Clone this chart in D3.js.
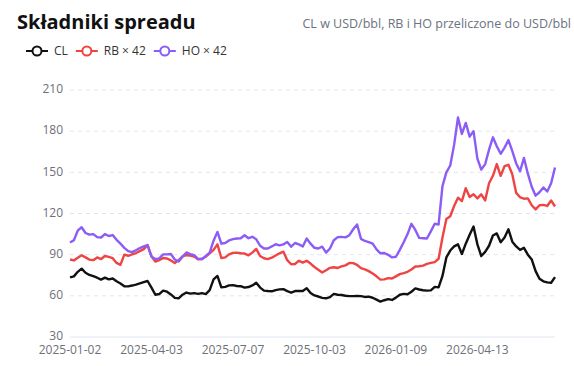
<!DOCTYPE html>
<html>
<head>
<meta charset="utf-8">
<script src="https://cdn.jsdelivr.net/npm/d3@7"></script>
<style>
  body { margin: 0; background: #fff; }
  svg { display: block; font-family: "Open Sans", "Noto Sans", sans-serif; }
</style>
</head>
<body>
<div id="chart"></div>
<script>
// x axis: trading-day categories, a label every 63 days
const tickLabels = ["2025-01-02", "2025-04-03", "2025-07-07", "2025-10-03", "2026-01-09", "2026-04-13"];
const labelEvery = 63;
// values every 3rd trading day
const sampleStep = 3;
const yTicks = [30, 60, 90, 120, 150, 180, 210];

const clValues = [
  73.5, 74.2, 77.5, 79.8, 76.8, 75.2, 74.3, 73.2, 71.8, 73.3,
  72.0, 72.6, 70.6, 69.0, 67.0, 66.9, 67.5, 68.2, 69.1, 70.0,
  70.8, 66.0, 60.8, 61.3, 63.8, 63.0, 61.0, 58.5, 58.2, 60.8,
  62.4, 61.6, 62.0, 61.4, 62.0, 61.3, 64.2, 72.0, 74.5, 66.2,
  66.5, 67.6, 67.8, 67.2, 67.0, 66.0, 66.4, 67.6, 69.5, 66.0,
  63.8, 63.5, 63.3, 64.2, 64.7, 64.9, 63.4, 62.4, 63.5, 63.6,
  63.5, 65.6, 62.0, 60.3, 59.5, 58.5, 58.2, 59.0, 61.4, 60.8,
  60.6, 60.1, 59.8, 59.8, 60.0, 59.8, 59.2, 59.4, 58.6, 57.2,
  55.8, 56.8, 57.6, 57.0, 58.7, 60.8, 61.4, 61.2, 63.0, 65.4,
  64.6, 64.1, 63.8, 64.0, 66.5, 66.2, 74.5, 88.0, 93.0, 96.0,
  97.5, 90.5, 98.0, 104.5, 110.5, 97.5, 89.0, 92.0, 96.5, 104.0,
  105.5, 99.0, 102.5, 108.5, 99.5, 96.0, 93.5, 95.0, 90.0, 86.5,
  78.0, 72.5, 70.6, 69.8, 69.5, 73.6
];

const rbValues = [
  86.5, 85.8, 87.8, 89.6, 88.0, 86.4, 86.0, 88.0, 86.8, 89.0,
  88.4, 87.4, 84.0, 82.6, 90.0, 89.2, 90.2, 91.2, 92.6, 94.0,
  97.0, 88.8, 85.0, 86.0, 87.6, 87.2, 85.8, 83.9, 86.0, 88.8,
  89.6, 89.4, 88.6, 86.6, 87.0, 88.5, 91.0, 93.5, 97.5, 87.6,
  88.0, 90.2, 91.3, 91.5, 91.0, 90.8, 89.5, 91.5, 94.2, 89.0,
  87.4, 86.8, 87.8, 89.4, 91.0, 92.2, 86.0, 83.0, 83.2, 85.6,
  84.2, 85.6, 83.5, 81.0, 79.0, 77.0, 78.6, 80.4, 80.8, 80.3,
  81.4, 82.2, 84.0, 83.8, 82.5, 80.2, 79.3, 78.0, 76.2, 74.2,
  71.8, 72.0, 72.9, 72.6, 74.2, 75.8, 76.6, 77.5, 79.2, 81.4,
  81.6, 82.0, 83.3, 84.0, 84.6, 87.0, 102.5, 116.0, 118.0, 125.5,
  131.5, 129.0, 138.5, 132.0, 134.0, 131.0, 134.0, 129.5, 142.0, 147.5,
  156.0, 147.5, 154.5, 155.5, 148.5, 135.0, 131.8, 130.8, 131.0, 126.0,
  123.0, 126.0, 126.3, 125.5, 129.5, 125.1
];

const hoValues = [
  98.8, 100.5, 107.5, 110.0, 105.8, 104.6, 105.0, 102.8, 102.5, 105.0,
  103.6, 104.3, 100.8, 98.0, 95.0, 92.6, 91.8, 93.2, 94.8, 96.0,
  97.0, 88.5, 86.8, 87.3, 90.2, 90.2, 90.5, 86.5, 85.0, 88.5,
  91.6, 90.4, 89.6, 87.0, 86.6, 89.0, 91.5, 100.2, 106.6, 98.0,
  98.5, 100.4, 101.3, 101.8, 102.0, 104.2, 102.0, 103.0, 101.2, 96.5,
  94.5, 94.5, 96.0, 97.6, 96.8, 97.5, 99.2, 95.8, 98.5, 97.5,
  96.0, 101.8, 98.0, 95.0, 94.5, 95.8, 91.5, 94.5, 100.5, 102.8,
  103.0, 102.6, 104.2, 108.5, 112.0, 101.5, 100.0, 99.2, 98.0, 93.8,
  91.0, 91.2, 89.9, 88.0, 88.5, 93.5, 99.0, 105.0, 112.5, 108.0,
  102.2, 102.0, 101.8, 107.0, 112.5, 112.0, 140.0, 150.0, 155.0, 170.0,
  190.0, 178.0, 186.0, 176.0, 180.0, 160.0, 152.0, 156.0, 166.5, 175.5,
  169.0, 163.5, 168.0, 173.5, 165.5, 156.5, 150.8, 160.5, 149.0, 139.5,
  133.0, 135.5, 139.0, 136.0, 142.0, 153.5
];

const seriesNames = ["CL", "RB × 42", "HO × 42"];
const seriesColors = ["#111111", "#ef4444", "#8b5cf6"];
const seriesData = [clValues, rbValues, hoValues];

const width = 574, height = 366;
const margin = { top: 90, right: 19, bottom: 29, left: 70 };

const svg = d3.select("#chart").append("svg")
  .attr("width", width)
  .attr("height", height);

// title + subtitle
svg.append("text")
  .attr("x", 17).attr("y", 29)
  .attr("font-size", 20).attr("font-weight", 700)
  .attr("fill", "#111")
  .text("Składniki spreadu");

svg.append("text")
  .attr("x", 571).attr("y", 28)
  .attr("text-anchor", "end")
  .attr("font-size", 12.5)
  .attr("fill", "#6b7280")
  .text("CL w USD/bbl, RB i HO przeliczone do USD/bbl");

// scales
const lastIndex = (clValues.length - 1) * sampleStep;
const x = d3.scaleLinear()
  .domain([0, lastIndex])
  .range([margin.left, width - margin.right]);

const y = d3.scaleLinear()
  .domain([30, 210])
  .range([height - margin.bottom, margin.top]);

// grid lines
svg.append("g")
  .selectAll("line")
  .data(yTicks)
  .join("line")
  .attr("x1", margin.left)
  .attr("x2", width - margin.right)
  .attr("y1", d => y(d))
  .attr("y2", d => y(d))
  .attr("stroke", "#e0e6f1")
  .attr("stroke-width", 1)
  .attr("stroke-dasharray", d => d === 30 ? null : "4,4");

// y labels
svg.append("g")
  .selectAll("text")
  .data(yTicks)
  .join("text")
  .attr("x", margin.left - 7)
  .attr("y", d => y(d) - 1)
  .attr("dy", "0.35em")
  .attr("text-anchor", "end")
  .attr("font-size", 12)
  .attr("fill", "#6e7079")
  .text(d => d);

// x labels
svg.append("g")
  .selectAll("text")
  .data(tickLabels)
  .join("text")
  .attr("x", (d, i) => x(i * labelEvery))
  .attr("y", height - margin.bottom + 17)
  .attr("text-anchor", "middle")
  .attr("font-size", 12)
  .attr("fill", "#6e7079")
  .text(d => d);

// lines
const line = d3.line()
  .x((d, i) => x(i * sampleStep))
  .y(d => y(d));

svg.append("g")
  .selectAll("path")
  .data(seriesData)
  .join("path")
  .attr("d", d => line(d))
  .attr("fill", "none")
  .attr("stroke", (d, i) => seriesColors[i])
  .attr("stroke-width", 2.4)
  .attr("stroke-linejoin", "round");

// legend
const legend = svg.append("g").attr("transform", "translate(26,51)");
let lx = 0;
seriesNames.forEach((name, i) => {
  const item = legend.append("g").attr("transform", "translate(" + lx + ",0)");
  item.append("line")
    .attr("x1", 0).attr("x2", 22)
    .attr("stroke", seriesColors[i]).attr("stroke-width", 2);
  item.append("circle")
    .attr("cx", 11).attr("r", 4.5)
    .attr("fill", "#fff")
    .attr("stroke", seriesColors[i]).attr("stroke-width", 2);
  const t = item.append("text")
    .attr("x", 28).attr("dy", "0.35em")
    .attr("font-size", 12)
    .attr("fill", "#333")
    .text(name);
  lx += 28 + t.node().getComputedTextLength() + 8;
});
</script>
</body>
</html>
